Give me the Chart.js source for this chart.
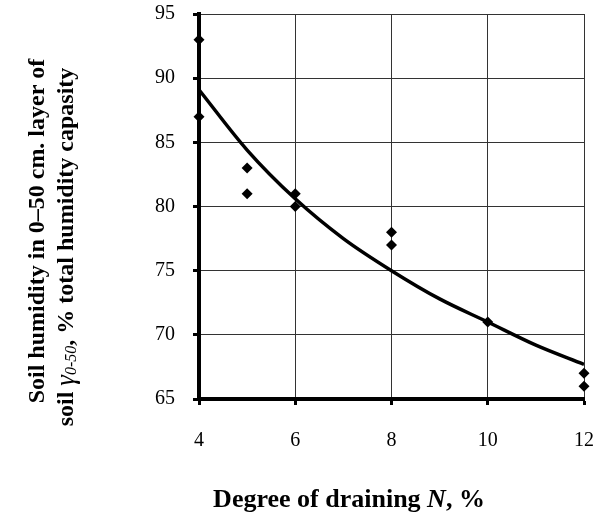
<!DOCTYPE html>
<html lang="en">
<head>
<meta charset="UTF-8">
<title>Soil humidity vs degree of draining</title>
<script src="https://cdn.jsdelivr.net/npm/chart.js"></script>
<style>
  html, body { margin: 0; padding: 0; background: #fff; }
  #wrap { width: 595px; height: 515px; }
</style>
</head>
<body>
<div id="wrap"><canvas id="soilChart" width="595" height="515"></canvas></div>
<script>
// observed points (degree of draining N, %  ->  soil humidity, %)
const obsX = [4, 4, 5, 5, 6, 6, 8, 8, 10, 12, 12];
const obsY = [93, 87, 83, 81, 81, 80, 78, 77, 71, 67, 66];

// trend curve
const trendX = [4, 5, 6, 7, 8, 9, 10, 11, 12];
const trendY = [89.1, 84.4, 80.6, 77.5, 75.0, 72.8, 71.0, 69.2, 67.7];

const xTicks = [4, 6, 8, 10, 12];
const yTicks = [65, 70, 75, 80, 85, 90, 95];

const serif = '"Liberation Serif", "Times New Roman", serif';

// draws the two axis titles with their italic parts
const titlesPlugin = {
  id: 'titles',
  afterDraw(chart) {
    const ctx = chart.ctx;
    ctx.save();
    ctx.fillStyle = '#000';
    ctx.textBaseline = 'middle';

    function runs(parts, cx, cy) {
      let w = 0;
      parts.forEach(p => { ctx.font = p.font; w += ctx.measureText(p.t).width; });
      let x = cx - w / 2;
      parts.forEach(p => {
        ctx.font = p.font;
        ctx.fillText(p.t, x, cy + (p.dy || 0));
        x += ctx.measureText(p.t).width;
      });
    }

    const b = 'bold 24px ' + serif;

    // x title
    runs([
      { t: 'Degree of draining ', font: 'bold 26px ' + serif },
      { t: 'N', font: 'italic bold 26px ' + serif },
      { t: ', %', font: 'bold 26px ' + serif }
    ], 349, 500);

    // y title, rotated
    ctx.save();
    ctx.translate(0, 231);
    ctx.rotate(-Math.PI / 2);
    runs([{ t: 'Soil humidity in 0\u201350 cm. layer of', font: b }], 0, 38);
    ctx.restore();

    ctx.translate(0, 247);
    ctx.rotate(-Math.PI / 2);
    runs([
      { t: 'soil ', font: b },
      { t: '\u03b3', font: 'italic 27px ' + serif },
      { t: '0-50', font: 'italic 16px ' + serif, dy: 5 },
      { t: ', % total humidity capasity', font: b }
    ], 0, 67);
    ctx.restore();
  }
};

function noPad(s) {
  s.paddingTop = 0; s.paddingBottom = 0; s.paddingLeft = 0; s.paddingRight = 0;
}

const ctx = document.getElementById('soilChart').getContext('2d');
new Chart(ctx, {
  data: {
    datasets: [
      {
        type: 'scatter',
        data: obsX.map((x, i) => ({ x: x, y: obsY[i] })),
        pointStyle: 'rectRot',
        pointRadius: 5.5,
        backgroundColor: '#000',
        borderColor: '#000',
        borderWidth: 0,
        clip: false
      },
      {
        type: 'line',
        data: trendX.map((x, i) => ({ x: x, y: trendY[i] })),
        borderColor: '#000',
        borderWidth: 3.5,
        pointRadius: 0,
        fill: false,
        cubicInterpolationMode: 'monotone'
      }
    ]
  },
  options: {
    responsive: false,
    animation: false,
    layout: { padding: { top: 14, right: 11, left: 0, bottom: 0 } },
    plugins: { legend: { display: false }, tooltip: { enabled: false } },
    scales: {
      x: {
        type: 'linear',
        min: 4, max: 12,
        afterBuildTicks: s => { s.ticks = xTicks.map(v => ({ value: v })); },
        afterFit: s => { s.height = 116; noPad(s); },
        border: { color: '#000', width: 4 },
        grid: { color: '#333', lineWidth: 1, tickColor: '#000', tickWidth: 3, tickLength: 6 },
        ticks: { color: '#000', padding: 24, font: { family: serif, size: 20 } }
      },
      y: {
        min: 65, max: 95,
        afterBuildTicks: s => { s.ticks = yTicks.map(v => ({ value: v })); },
        afterFit: s => { s.width = 199; noPad(s); },
        border: { color: '#000', width: 4 },
        grid: { color: '#333', lineWidth: 1, tickColor: '#000', tickWidth: 3, tickLength: 6 },
        ticks: { color: '#000', padding: 18, font: { family: serif, size: 20 } }
      }
    }
  },
  plugins: [titlesPlugin]
});
</script>
</body>
</html>
